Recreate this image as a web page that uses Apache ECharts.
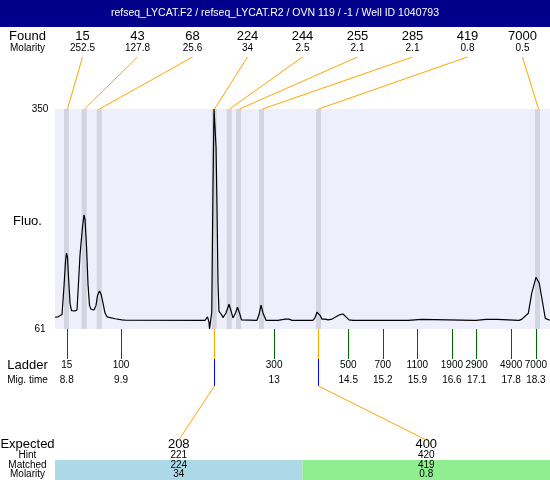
<!DOCTYPE html>
<html>
<head>
<meta charset="utf-8">
<script src="https://cdn.jsdelivr.net/npm/echarts@6/dist/echarts.min.js"></script>
<style>
  html, body { margin: 0; padding: 0; background: #fff; }
  #chart { width: 550px; height: 480px; }
</style>
</head>
<body>
<div id="chart"></div>
<script>
const title = 'refseq_LYCAT.F2 / refseq_LYCAT.R2 / OVN 119 / -1 / Well ID 1040793';

// trace: migration time (min) / fluorescence
const traceTime = [
  8.562, 8.623, 8.704, 8.745, 8.775, 8.795, 8.815, 8.835, 8.866, 8.896,
  8.967, 9.008, 9.068, 9.119, 9.149, 9.170, 9.200, 9.230, 9.261, 9.291,
  9.352, 9.392, 9.423, 9.463, 9.494, 9.534, 9.575, 9.615, 9.777, 9.919,
  9.949, 9.990, 11.600, 11.650, 11.681, 11.691, 11.716, 11.736, 11.762, 11.782,
  11.803, 11.823, 11.843, 11.863, 11.883, 11.903, 11.934, 11.964, 12.025, 12.085,
  12.126, 12.166, 12.217, 12.258, 12.298, 12.339, 12.369, 12.652, 12.693, 12.734,
  12.774, 12.835, 13.078, 13.098, 13.220, 13.240, 13.301, 13.321, 13.362, 13.787,
  13.828, 13.868, 13.888, 13.929, 13.969, 14.030, 14.091, 14.172, 14.253, 14.334,
  14.394, 14.455, 14.516, 14.597, 15.711, 15.731, 15.988, 16.008, 17.047, 17.067,
  17.088, 17.290, 17.513, 17.533, 17.958, 18.013, 18.147, 18.215, 18.302, 18.369,
  18.438, 18.491, 18.526, 18.586
];
const traceFluo = [
  76.4, 77, 80, 118, 150, 160.8, 155, 130, 95, 85,
  84.7, 86, 158, 195, 210.8, 205, 170, 120, 92, 87,
  86, 92, 105, 110.9, 107, 95, 82, 77, 74.5, 73,
  74.5, 72.6, 72.4, 77, 70, 61, 61, 83, 250, 350,
  350, 300, 220, 120, 84, 83.7, 80, 76, 82, 93.5,
  85, 75.5, 82, 89.5, 82, 73, 72.4, 72.4, 80, 92.5,
  82, 72.4, 72.4, 74, 74, 72.4, 74, 75.5, 72.4, 72.4,
  76, 83, 84.7, 79, 74, 74, 73, 74, 77, 80,
  80.7, 77, 73, 72.4, 72.4, 73.7, 73.7, 72.4, 72.4, 73.7,
  72.4, 73.7, 73.7, 72.4, 72.4, 73.7, 81.6, 107.9, 128.9, 121,
  94.8, 75, 72.4, 72.4
];

// found peaks
const foundSize     = [15, 43, 68, 224, 244, 255, 285, 419, 7000];
const foundMolarity = [252.5, 127.8, 25.6, 34, 2.5, 2.1, 2.1, 0.8, 0.5];
const foundTime     = [8.795, 9.153, 9.459, 11.786, 12.090, 12.278, 12.744, 13.898, 18.333];

// ladder
const ladderSize = [15, 100, 300, 500, 700, 1100, 1900, 2900, 4900, 7000];
const ladderTime = [8.8, 9.9, 13, 14.5, 15.2, 15.9, 16.6, 17.1, 17.8, 18.3];

// expected / matched table
const expectedSize    = [208, 400];
const hintSize        = [221, 420];
const matchedSize     = [224, 419];
const matchedMolarity = [34, 0.8];

const yTicks = [61, 350];

const FONT = 'Liberation Sans, Arial, sans-serif';
const PLOT = { left: 55, top: 109, width: 495, height: 220 };
const MATCH_COLORS = ['#add8e6', '#90ee90'];

const chart = echarts.init(document.getElementById('chart'));

chart.setOption({
  animation: false,
  textStyle: { fontFamily: FONT },
  grid: {
    left: PLOT.left, top: PLOT.top, width: PLOT.width, height: PLOT.height,
    show: true, backgroundColor: '#efeffc', borderWidth: 0,
    outerBoundsMode: 'none',
  },
  xAxis: {
    type: 'value',
    min: 8.562, max: 18.586,
    axisLine: { show: false },
    splitLine: { show: false },
    axisTick: {
      show: true, customValues: ladderTime, length: 30,
      lineStyle: { color: '#006400', width: 1 },
    },
    axisLabel: {
      customValues: ladderTime,
      margin: 29,
      fontSize: 10, lineHeight: 14.5, color: '#000',
      formatter: v => {
        const i = ladderTime.indexOf(v);
        return ladderSize[i] + '\n' + v;
      },
    },
  },
  yAxis: {
    type: 'value',
    min: 61, max: 350,
    axisLine: { show: false },
    axisTick: { show: false },
    splitLine: { show: false },
    axisLabel: { customValues: yTicks, fontSize: 10, color: '#000', margin: 15, align: 'center' },
  },
  series: [
    {
      // grey peak bands
      type: 'bar',
      z: 1,
      silent: true,
      barWidth: 5,
      itemStyle: { color: '#d4d4e0' },
      data: foundTime.map(t => [t, 350]),
    },
    {
      type: 'line',
      z: 3,
      silent: true,
      symbol: 'none',
      lineStyle: { color: '#000', width: 1.2 },
      data: traceTime.map((t, i) => [t, traceFluo[i]]),
    },
  ],
});

// labels and connectors, placed from the axis scale
const px = t => Math.round(chart.convertToPixel({ xAxisIndex: 0 }, t)) + 0.5;
const txt = (x, y, text, size, align, color) => ({
  type: 'text', x, y, silent: true,
  style: {
    text: String(text), fill: color || '#000', font: size + 'px ' + FONT,
    textAlign: align || 'center', textVerticalAlign: 'middle',
  },
});
const line = (x1, y1, x2, y2, color) => ({
  type: 'line', silent: true,
  shape: { x1, y1, x2, y2 },
  style: { stroke: color, lineWidth: 1 },
});

const labelX = 27.5;
const g = [];
g.push({ type: 'rect', shape: { x: 0, y: 0, width: 550, height: 27 }, style: { fill: '#00008b' } });
g.push(txt(275, 13.5, title, 10.5, 'center', '#fff'));

g.push(txt(labelX, 36, 'Found', 13));
g.push(txt(labelX, 48, 'Molarity', 10));
foundSize.forEach((s, i) => {
  const cx = PLOT.left + (i + 0.5) * PLOT.width / foundSize.length;
  g.push(txt(cx, 36, s, 13));
  g.push(txt(cx, 48, foundMolarity[i], 10));
  g.push(line(cx, 57, px(foundTime[i]), PLOT.top, '#ffa500'));
});

g.push(txt(labelX, 221, 'Fluo.', 13));
g.push(txt(labelX, 365.5, 'Ladder', 13));
g.push(txt(labelX, 380, 'Mig. time', 10));

g.push(txt(labelX, 444, 'Expected', 13));
g.push(txt(labelX, 455, 'Hint', 10));
g.push(txt(labelX, 465, 'Matched', 10));
g.push(txt(labelX, 474.5, 'Molarity', 10));

const colW = PLOT.width / expectedSize.length;
expectedSize.forEach((e, j) => {
  const x0 = PLOT.left + j * colW;
  const cx = x0 + colW / 2;
  g.push({ type: 'rect', z: -1, shape: { x: x0, y: 460, width: colW, height: 20 }, style: { fill: MATCH_COLORS[j] } });
  g.push(txt(cx, 444, e, 13));
  g.push(txt(cx, 455, hintSize[j], 10));
  g.push(txt(cx, 465, matchedSize[j], 10));
  g.push(txt(cx, 474.5, matchedMolarity[j], 10));

  const x = px(foundTime[foundSize.indexOf(matchedSize[j])]);
  const yb = PLOT.top + PLOT.height;
  g.push(line(x, yb, x, yb + 30, '#ffa500'));
  g.push(line(x, yb + 30, x, yb + 57, '#0000ff'));
  g.push(line(x, yb + 57, cx, 440, '#ffa500'));
});

chart.setOption({ graphic: g });
</script>
</body>
</html>
